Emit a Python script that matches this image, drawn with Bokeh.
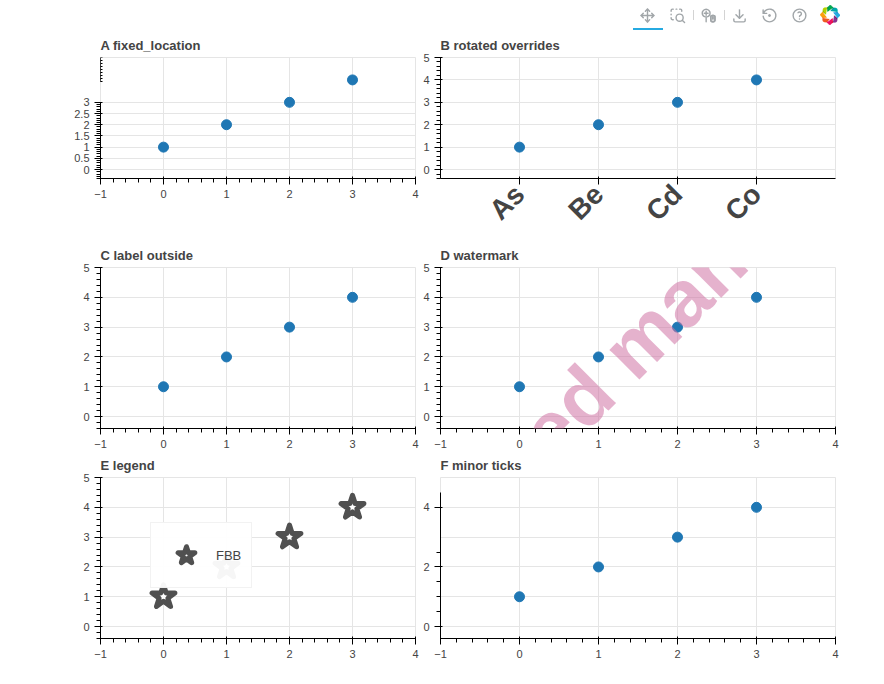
from math import pi
import numpy as np
from bokeh.plotting import figure
from bokeh.layouts import gridplot
from bokeh.models import (ColumnDataSource, Range1d, LinearAxis, FixedTicker,
                          Legend, LegendItem, Label)
from bokeh.embed import file_html
from bokeh.resources import INLINE

FONT = "Liberation Sans"
xs = [0, 1, 2, 3]
ys = [1, 2, 3, 4]


def base(title, **kw):
    f = figure(width=420, height=210, title=title, output_backend="svg",
               toolbar_location=None, x_range=Range1d(-1, 4), y_range=Range1d(-0.4, 5), **kw)
    f.scatter(xs, ys, size=10)
    return f


# A: fixed_location extra axis
a = base("A fixed_location", y_axis_location=None)
a.extra_y_ranges = {"upper": Range1d(-20, 20)}
ax1 = LinearAxis(bounds=(-0.4, 3))
a.add_layout(ax1, "left")
ax2 = LinearAxis(y_range_name="upper", bounds=(12, 20), fixed_location=-1.0)
a.add_layout(ax2, "left")

# B: rotated x labels with overrides
b = base("B rotated overrides", x_axis_location=None)
xa = LinearAxis(ticker=FixedTicker(ticks=[0, 1, 2, 3]),
                major_label_overrides={0: "As", 1: "Be", 2: "Cd", 3: "Co"},
                major_label_orientation=pi / 4)
xa.major_label_text_font = FONT
xa.major_label_text_font_style = "bold"
xa.major_label_text_font_size = "28px"
b.add_layout(xa, "below")

# C: Label rotated outside frame
c = base("C label outside", min_border_left=100)
c.add_layout(Label(x=-1.8, y=2.5, text="Enrichment ratios", angle=pi / 2,
                   text_align="center", text_baseline="middle",
                   text_font=FONT, text_font_style="bold", text_font_size="20px"))

# D: big watermark label
d = base("D watermark")
d.add_layout(Label(x=1.5, y=2.5, text="accepted manuscript", angle=pi / 4,
                   text_align="center", text_baseline="middle",
                   text_font=FONT, text_font_style="bold",
                   text_font_size="80px", text_color="#D073A4", text_alpha=0.55))

# E: legend with scatter
e = base("E legend")
r = e.scatter(xs, ys, marker="star", size=24, line_width=5, fill_color="white",
              line_join="round", line_color="#505050")
e.add_layout(Legend(items=[LegendItem(label="FBB", renderers=[r])], location=(50, 50),
                    glyph_width=50, glyph_height=44, spacing=0, margin=0,
                    label_text_font=FONT))

# F: fixed ticker minor ticks + bounds
f = base("F minor ticks", y_axis_location=None)
ya = LinearAxis(ticker=FixedTicker(ticks=[0, 2, 4], minor_ticks=[0.5, 1, 1.5, 2.5]),
                bounds=(-0.4, 4.5))
f.add_layout(ya, "left")

open("out.html", "w").write(file_html(gridplot([[a, b], [c, d], [e, f]]), INLINE))
